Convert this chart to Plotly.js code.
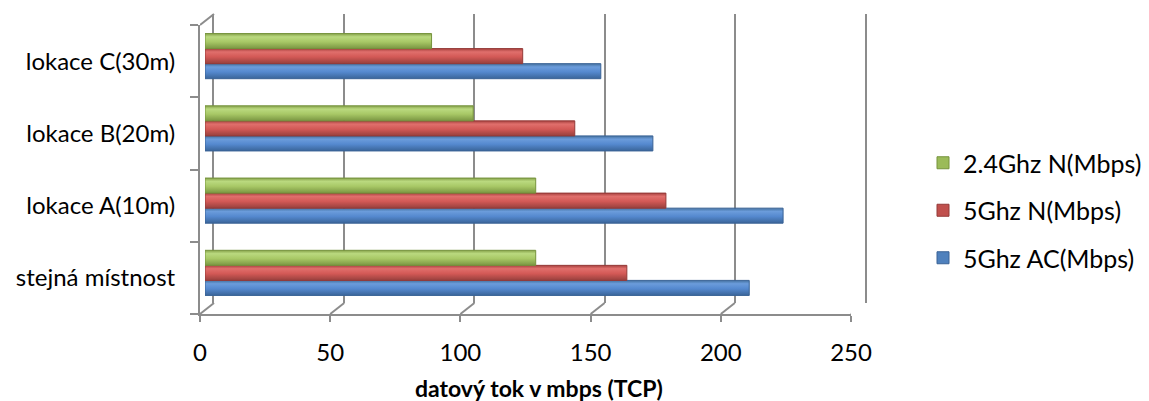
<!DOCTYPE html>
<html>
<head>
<meta charset="utf-8">
<script src="https://cdn.plot.ly/plotly-3.0.1.min.js"></script>
<style>html,body{margin:0;padding:0;background:#fff;}#chart{width:1149px;height:401px;}</style>
</head>
<body>
<div id="chart"></div>
<script>
// ---- data ----
const categories = ["stejná místnost", "lokace A(10m)", "lokace B(20m)", "lokace C(30m)"];
const seriesNames = ["5Ghz AC(Mbps)", "5Ghz N(Mbps)", "2.4Ghz N(Mbps)"];
const acValues = [209, 222, 172, 152];
const nValues = [162, 177, 142, 122];
const g24Values = [127, 127, 103, 87];
const xTicks = [0, 50, 100, 150, 200, 250];
const xTitle = "datový tok v mbps (TCP)";

// ---- styling ----
const W = 1149, H = 401;
const fills = ["#4F81BD", "#C0504D", "#9BBB59"];
const edges = ["#3A6396", "#943A38", "#76933C"];
const shades = [
  ["#44719f", "#6b9cdb", "#5589cf", "#3a6599"],
  ["#a8413f", "#e06f6c", "#d35956", "#97403d"],
  ["#86a24a", "#bad97f", "#a8c866", "#7a9642"]
];
const gridCol = "#8C8C8C";
const fontFam = "Lato, 'Open Sans', sans-serif";

const px = (x) => x / W;
const py = (y) => (H - y) / H;

// front plane: x 200..851, y 25..314 ; back plane shifted (+14,-11)
const front = {x0: 200, x1: 851, y0: 25, y1: 314};
const dx = 14, dy = 11;
const bdx = 5, bdy = 5;

const values = [acValues, nValues, g24Values];
const traces = values.map((v, i) => ({
  type: "bar",
  orientation: "h",
  name: seriesNames[i],
  x: v,
  y: categories,
  xaxis: "x3",
  yaxis: "y3",
  marker: {color: fills[i], line: {color: edges[i], width: 1}},
  legendgroup: "g" + i,
  legendrank: 3 - i,
  hoverinfo: "x+y"
}));

const catRange = [-0.5, categories.length - 0.5];

const layout = {
  width: W, height: H,
  margin: {l: 0, r: 0, t: 0, b: 0},
  paper_bgcolor: "#fff",
  plot_bgcolor: "rgba(0,0,0,0)",
  font: {family: fontFam, size: 24, color: "#000"},
  barmode: "group",
  bargap: 0.375,
  bargroupgap: 0,
  showlegend: true,
  legend: {
    x: px(923), y: py(140), xanchor: "left", yanchor: "top",
    traceorder: "grouped",
    tracegroupgap: 12,
    font: {family: fontFam, size: 25, color: "#000"},
    itemwidth: 30,
    bgcolor: "rgba(0,0,0,0)"
  },
  // back wall grid
  xaxis2: {
    domain: [px(front.x0 + dx), px(front.x1 + dx)],
    range: [0, 250], anchor: "y2",
    showgrid: true, gridcolor: gridCol, gridwidth: 2,
    tickvals: xTicks, showticklabels: false, ticks: "",
    zeroline: false, showline: false, fixedrange: true
  },
  yaxis2: {
    domain: [py(front.y1 - dy), py(front.y0 - dy)],
    range: [0, 1], anchor: "x2",
    showgrid: false, showticklabels: false, ticks: "",
    zeroline: false, showline: true, mirror: true,
    linecolor: gridCol, linewidth: 2, fixedrange: true
  },
  // front axes
  xaxis: {
    domain: [px(front.x0), px(front.x1)],
    range: [0, 250], anchor: "y",
    tickvals: xTicks, ticktext: xTicks.map(String),
    ticks: "outside", ticklen: 6, tickcolor: gridCol, tickwidth: 2,
    ticklabelstandoff: 10,
    showline: true, linecolor: gridCol, linewidth: 2,
    showgrid: false, zeroline: false,
    tickfont: {family: fontFam, size: 24, color: "#000"},
    automargin: false, fixedrange: true
  },
  yaxis: {
    domain: [py(front.y1), py(front.y0)],
    type: "category", categoryorder: "array", categoryarray: categories,
    range: catRange,
    anchor: "x",
    ticks: "outside", ticklen: 8, tickcolor: gridCol, tickwidth: 2,
    tickson: "boundaries",
    showline: true, linecolor: gridCol, linewidth: 2,
    showgrid: false, zeroline: false,
    tickfont: {family: fontFam, size: 24, color: "#000"},
    ticklabelstandoff: 18,
    automargin: false, fixedrange: true
  },
  // bars at middle depth
  xaxis3: {
    domain: [px(front.x0 + bdx), px(front.x1 + bdx)],
    range: [0, 250], anchor: "y3", visible: false, fixedrange: true
  },
  yaxis3: {
    domain: [py(front.y1 - bdy), py(front.y0 - bdy)],
    type: "category", categoryorder: "array", categoryarray: categories,
    range: catRange,
    anchor: "x3", visible: false, fixedrange: true
  },
  annotations: [{
    text: "<b>" + xTitle + "</b>",
    xref: "paper", yref: "paper",
    x: px(539), y: py(388), xanchor: "center", yanchor: "middle",
    showarrow: false,
    font: {family: fontFam, size: 23, color: "#000"}
  }],
  shapes: []
};

// floor connectors from front ticks to back gridlines
xTicks.forEach(t => {
  layout.shapes.push({
    type: "line", xref: "x", yref: "paper",
    xsizemode: "pixel", xanchor: t, x0: 0, x1: dx,
    ysizemode: "pixel", yanchor: py(front.y1), y0: 0, y1: dy,
    line: {color: gridCol, width: 2}, layer: "below"
  });
});
// top-left wall connector
layout.shapes.push({
  type: "line", xref: "x", yref: "paper",
  xsizemode: "pixel", xanchor: 0, x0: 0, x1: dx,
  ysizemode: "pixel", yanchor: py(front.y0), y0: 0, y1: dy,
  line: {color: gridCol, width: 2}, layer: "below"
});

const wallTrace = {type: "scatter", x: [], y: [], xaxis: "x2", yaxis: "y2", showlegend: false, hoverinfo: "skip"};

Plotly.newPlot("chart", [wallTrace].concat(traces), layout, {displayModeBar: false, staticPlot: true}).then(gd => {
  // cylinder-like vertical shading on the bars
  const svg = gd.querySelector("svg.main-svg");
  const NS = "http://www.w3.org/2000/svg";
  let defs = svg.querySelector("defs");
  if (!defs) { defs = document.createElementNS(NS, "defs"); svg.insertBefore(defs, svg.firstChild); }
  shades.forEach((s, i) => {
    const g = document.createElementNS(NS, "linearGradient");
    g.setAttribute("id", "cyl" + i);
    g.setAttribute("x1", "0"); g.setAttribute("y1", "0");
    g.setAttribute("x2", "0"); g.setAttribute("y2", "1");
    [[0, s[0]], [0.22, s[1]], [0.55, s[2]], [1, s[3]]].forEach(([o, c]) => {
      const st = document.createElementNS(NS, "stop");
      st.setAttribute("offset", o);
      st.setAttribute("stop-color", c);
      g.appendChild(st);
    });
    defs.appendChild(g);
  });
  const barTraces = gd.querySelectorAll(".barlayer .trace.bars");
  barTraces.forEach((tr, i) => {
    tr.querySelectorAll("path").forEach(p => { p.style.fill = "url(#cyl" + i + ")"; });
  });
});
</script>
</body>
</html>
